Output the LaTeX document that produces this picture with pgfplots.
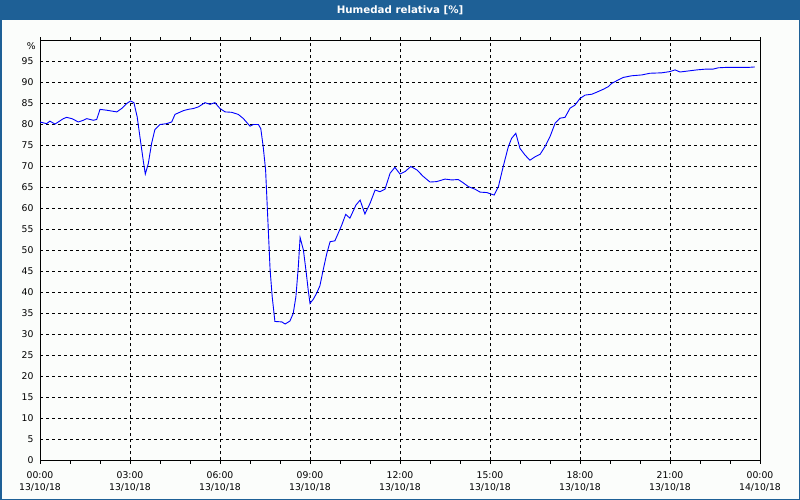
\documentclass[border=0pt]{standalone}
\usepackage{pgfplots}
\pgfplotsset{compat=1.18}
\usepackage{fontspec}
\setmainfont{DejaVu Sans}
\definecolor{titlebar}{RGB}{30,96,150}
\definecolor{bgc}{RGB}{251,253,251}
\begin{document}
\begin{tikzpicture}
\useasboundingbox (0,0) rectangle (800bp,500bp);
\fill[bgc] (0,0) rectangle (800bp,500bp);
\fill[titlebar] (0,479.5bp) rectangle (800bp,500bp);
\draw[titlebar, line width=1.5bp] (0.75bp,0.75bp) rectangle (799.25bp,499.25bp);
\node[text=white, font=\fontsize{10.3}{12}\selectfont\bfseries] at (400bp,490bp) {Humedad relativa [\%]};
\node[anchor=east, font=\fontsize{9.3}{11}\selectfont, inner sep=0pt] at (36bp,454bp) {\%};
\begin{axis}[
  at={(40bp,39.5bp)}, anchor=south west,
  width=720bp, height=420bp, scale only axis,
  xmin=0, xmax=24, ymin=0, ymax=100,
  /pgf/number format/assume math mode=true,
  xtick={0,3,...,24},
  minor xtick={1,2,4,5,7,8,10,11,13,14,16,17,19,20,22,23},
  xticklabels={{00:00\\13/10/18},{03:00\\13/10/18},{06:00\\13/10/18},{09:00\\13/10/18},{12:00\\13/10/18},{15:00\\13/10/18},{18:00\\13/10/18},{21:00\\13/10/18},{00:00\\14/10/18}},
  xticklabel style={align=center, font=\fontsize{9.3}{12}\selectfont, yshift=-5bp},
  ytick={0,5,...,95},
  yticklabel style={font=\fontsize{9.3}{11}\selectfont},
  tick align=outside,
  major tick length=3bp, minor tick length=3bp,
  ytick style={draw=none},
  xtick style={black, line width=0.8bp},
  minor tick style={black, line width=0.8bp},
  xmajorgrids, ymajorgrids,
  grid style={black, line width=0.8bp, dash pattern=on 3bp off 3bp},
  axis line style={black, line width=1bp},
  axis background/.style={fill=bgc},
]
\addplot[blue, line width=0.9bp, mark=none] coordinates {
(0,80.6) (0.11,80.4) (0.22,80.2) (0.33,80.8) (0.5,80.1) (0.61,80.6) (0.78,81.4) (0.89,81.7)
(1.06,81.4) (1.28,80.6) (1.44,81.0) (1.56,81.4) (1.78,81.0) (1.89,81.2) (2.0,83.6) (2.22,83.4)
(2.56,83.0) (2.72,83.8) (2.89,85.0) (3.02,85.6) (3.13,85.2) (3.24,81.8) (3.33,77.1) (3.44,71.5)
(3.51,68.2) (3.61,70.7) (3.72,75.5) (3.83,78.8) (4.0,80.0) (4.22,80.2) (4.39,80.6) (4.5,82.4)
(4.78,83.3) (4.94,83.6) (5.11,83.8) (5.28,84.2) (5.5,85.2) (5.67,84.8) (5.83,85.2) (6.0,83.8)
(6.17,83.0) (6.39,82.9) (6.61,82.4) (6.78,81.4) (7.0,79.6) (7.11,80.0) (7.28,80.0) (7.36,79.0)
(7.44,74.7) (7.52,69.2) (7.59,58.1) (7.67,45.4) (7.74,39.0) (7.83,33.1) (8.06,33.0) (8.17,32.5)
(8.33,33.2) (8.44,35.0) (8.53,39.0) (8.61,46.1) (8.67,53.1) (8.78,50.1) (8.87,45.0) (8.94,40.6)
(9.0,37.4) (9.11,38.4) (9.22,39.8) (9.33,41.6) (9.44,45.4) (9.56,49.3) (9.67,52.1) (9.83,52.3)
(9.94,54.1) (10.06,56.1) (10.19,58.6) (10.33,57.7) (10.53,60.8) (10.67,62.0) (10.83,58.7) (11.0,61.2)
(11.17,64.4) (11.33,64.0) (11.5,64.6) (11.67,68.4) (11.83,69.8) (12.0,68.2) (12.17,68.8) (12.36,70.0)
(12.56,69.2) (12.78,67.6) (13.0,66.3) (13.22,66.4) (13.5,67.0) (13.72,66.8) (13.94,66.9) (14.11,66.1)
(14.28,65.2) (14.5,64.6) (14.67,63.9) (14.89,63.8) (15.14,63.2) (15.28,65.2) (15.44,70.0) (15.61,74.7)
(15.72,76.7) (15.86,77.9) (16.0,74.3) (16.17,72.7) (16.33,71.5) (16.5,72.3) (16.67,72.9) (16.83,74.7)
(17.0,77.1) (17.17,80.3) (17.33,81.5) (17.5,81.7) (17.67,83.9) (17.83,84.6) (18.0,86.2) (18.17,87.0)
(18.39,87.2) (18.56,87.7) (18.78,88.4) (18.94,89.0) (19.06,89.8) (19.22,90.4) (19.44,91.2) (19.72,91.6)
(20.06,91.8) (20.33,92.2) (20.72,92.3) (21.0,92.6) (21.17,93.0) (21.33,92.5) (21.56,92.7) (21.89,93.0)
(22.22,93.2) (22.44,93.2) (22.61,93.5) (22.89,93.6) (23.22,93.6) (23.44,93.6) (23.61,93.6) (23.83,93.7)
};
\end{axis}
\end{tikzpicture}
\end{document}
